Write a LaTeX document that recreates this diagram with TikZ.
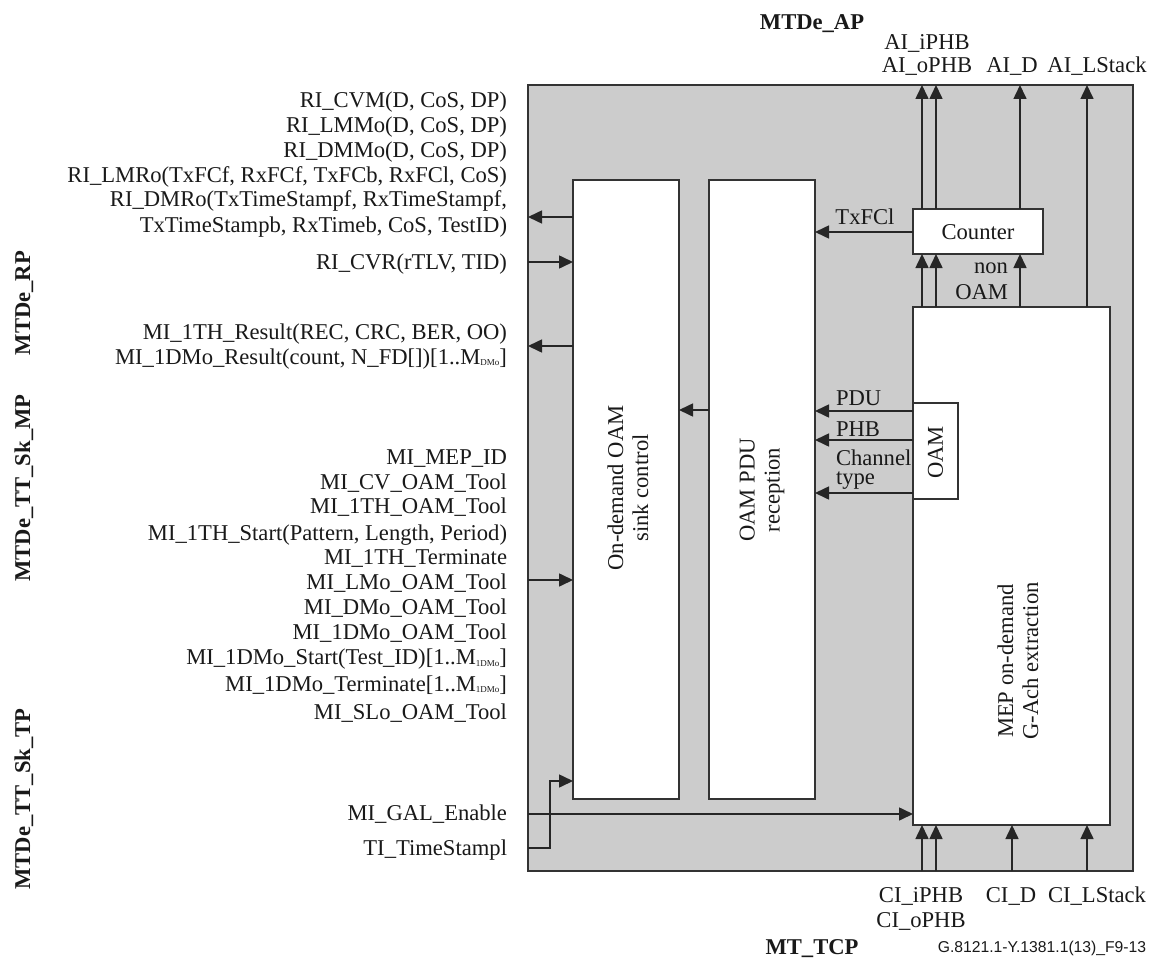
\documentclass[tikz,border=0pt]{standalone}
\usepackage{fontspec}
\setmainfont{Liberation Serif}
\newfontfamily\sansfam{Liberation Sans}
\usetikzlibrary{arrows.meta}
\newcommand{\subtiny}[1]{\raisebox{-1.5pt}{\fontsize{9}{10}\selectfont #1}}
\begin{document}
\begin{tikzpicture}[x=1pt,y=-1pt,
  every node/.style={font=\fontsize{22.6}{25}\selectfont, inner sep=0pt, outer sep=0pt, text=black!90},
  lab/.style={anchor=base east},
  ctr/.style={anchor=base},
  bold/.style={font=\fontsize{22.6}{25}\selectfont\bfseries},
  rot/.style={rotate=90, align=center},
  boxw/.style={draw=black!80, fill=white, line width=1.6pt, anchor=north west},
  arr/.style={-{Triangle[length=14pt,width=13pt]}, line width=1.6pt, draw=black!85},
  ln/.style={line width=1.6pt, draw=black!85}
]
\useasboundingbox (0,0) rectangle (1156,960);
\fill[white] (0,0) rectangle (1156,960);

% boxes
\node[boxw, fill=black!20, minimum width=605pt, minimum height=786pt] (outer) at (528,85) {};
\node[boxw, minimum width=106pt, minimum height=619pt] (sink) at (573,180) {};
\node[boxw, minimum width=106pt, minimum height=619pt] (pdu) at (709,180) {};
\node[boxw, minimum width=130pt, minimum height=45pt] (counter) at (913,209) {};
\node[boxw, minimum width=197pt, minimum height=518pt] (mep) at (913,307) {};
\node[boxw, minimum width=45pt, minimum height=96pt] (oam) at (913,403) {};

% box texts
\node[rot] (sinkt) at (628,488) {On-demand OAM\\sink control};
\node[rot] (pdut) at (762,490) {OAM PDU\\reception};
\node[rot] (mept) at (1018,661) {MEP on-demand\\G-Ach extraction};
\node[rotate=90] (oamt) at (935.5,452.5) {OAM};
\node[ctr] (countert) at (978,239.5) {Counter};

% coordinates for levels
\coordinate (xa) at (922,0);
\coordinate (xb) at (936,0);
\coordinate (xc) at (1020,0);
\coordinate (xd) at (1087,0);
\coordinate (xe) at (1012,0);
\coordinate (yRIo) at (0,217);
\coordinate (yCVR) at (0,262);
\coordinate (yMIo) at (0,346);
\coordinate (yMIi) at (0,580);
\coordinate (yGAL) at (0,814);
\coordinate (yTI) at (0,848);
\coordinate (yTIb) at (0,781);
\coordinate (tiA) at (550,848);
\coordinate (tiB) at (550,781);
\coordinate (yPP) at (0,410);
\coordinate (yTx) at (0,232);
\coordinate (yPDU) at (0,411);
\coordinate (yPHB) at (0,440);
\coordinate (yCT) at (0,493);

% left connectors
\draw[arr] (sink.west |- yRIo) -- (outer.west |- yRIo);
\draw[arr] (outer.west |- yCVR) -- (sink.west |- yCVR);
\draw[arr] (sink.west |- yMIo) -- (outer.west |- yMIo);
\draw[arr] (outer.west |- yMIi) -- (sink.west |- yMIi);
\draw[arr] (outer.west |- yGAL) -- (mep.west |- yGAL);
\draw[arr] (outer.west |- yTI) -- (tiA) -- (tiB) -- (sink.west |- yTIb);

% inner connectors
\draw[arr] (pdu.west |- yPP) -- (sink.east |- yPP);
\draw[arr] (counter.west |- yTx) -- (pdu.east |- yTx);
\draw[arr] (mep.west |- yPDU) -- (pdu.east |- yPDU);
\draw[arr] (mep.west |- yPHB) -- (pdu.east |- yPHB);
\draw[arr] (mep.west |- yCT) -- (pdu.east |- yCT);

% top connectors
\draw[arr] (counter.north -| xa) -- (outer.north -| xa);
\draw[arr] (counter.north -| xb) -- (outer.north -| xb);
\draw[arr] (counter.north -| xc) -- (outer.north -| xc);
\draw[arr] (mep.north -| xd) -- (outer.north -| xd);
\draw[arr] (mep.north -| xa) -- (counter.south -| xa);
\draw[arr] (mep.north -| xb) -- (counter.south -| xb);
\draw[arr] (mep.north -| xc) -- (counter.south -| xc);

% bottom connectors
\draw[arr] (outer.south -| xa) -- (mep.south -| xa);
\draw[arr] (outer.south -| xb) -- (mep.south -| xb);
\draw[arr] (outer.south -| xe) -- (mep.south -| xe);
\draw[arr] (outer.south -| xd) -- (mep.south -| xd);

% inner labels
\node[ctr] (txfcl) at (865,224.5) {TxFCl};
\node[anchor=base west] (pdul) at (836,405.5) {PDU};
\node[anchor=base west] (phbl) at (836,436.5) {PHB};
\node[anchor=west, align=left, font=\fontsize{22.6}{19}\selectfont] (chl) at (836,470) {Channel\\type};
\node[anchor=base east] (nonl) at (1008,273) {non};
\node[anchor=base east] (oaml) at (1008,299.5) {OAM};

% top labels
\node[ctr, bold] (apl) at (812,29.5) {MTDe\_AP};
\node[ctr] (aiiphb) at (927,49.2) {AI\_iPHB};
\node[ctr] (aiophb) at (927,72.5) {AI\_oPHB};
\node[ctr] (aid) at (1012,72.5) {AI\_D};
\node[ctr] (ails) at (1097,72.5) {AI\_LStack};

% bottom labels
\node[ctr] (ciiphb) at (921,902.5) {CI\_iPHB};
\node[ctr] (ciophb) at (921,927.5) {CI\_oPHB};
\node[ctr] (cid) at (1011,902.5) {CI\_D};
\node[ctr] (cils) at (1097,902.5) {CI\_LStack};
\node[ctr, bold] (tcpl) at (812,954.5) {MT\_TCP};
\node[ctr, font=\sansfam\fontsize{15.7}{18}\selectfont] (figid) at (1042,952.6) {G.8121.1-Y.1381.1(13)\_F9-13};

% left side labels
\node[lab] (l1) at (507,107.5) {RI\_CVM(D, CoS, DP)};
\node[lab] (l2) at (507,132.5) {RI\_LMMo(D, CoS, DP)};
\node[lab] (l3) at (507,157.5) {RI\_DMMo(D, CoS, DP)};
\node[lab] (l4) at (507,182.5) {RI\_LMRo(TxFCf, RxFCf, TxFCb, RxFCl, CoS)};
\node[lab] (l5) at (507,207) {RI\_DMRo(TxTimeStampf, RxTimeStampf,};
\node[lab] (l6) at (507,232.5) {TxTimeStampb, RxTimeb, CoS, TestID)};
\node[lab] (l7) at (507,269.2) {RI\_CVR(rTLV, TID)};
\node[lab] (l8) at (507,339.2) {MI\_1TH\_Result(REC, CRC, BER, OO)};
\node[lab] (l9) at (507,364.2) {MI\_1DMo\_Result(count, N\_FD[])[1..M\subtiny{DMo}]};
\node[lab] (m1) at (507,464.2) {MI\_MEP\_ID};
\node[lab] (m2) at (507,489.2) {MI\_CV\_OAM\_Tool};
\node[lab] (m3) at (507,513.8) {MI\_1TH\_OAM\_Tool};
\node[lab] (m4) at (507,540.2) {MI\_1TH\_Start(Pattern, Length, Period)};
\node[lab] (m5) at (507,564.2) {MI\_1TH\_Terminate};
\node[lab] (m6) at (507,589.2) {MI\_LMo\_OAM\_Tool};
\node[lab] (m7) at (507,614.2) {MI\_DMo\_OAM\_Tool};
\node[lab] (m8) at (507,639.8) {MI\_1DMo\_OAM\_Tool};
\node[lab] (m9) at (507,664.8) {MI\_1DMo\_Start(Test\_ID)[1..M\subtiny{1DMo}]};
\node[lab] (m10) at (507,691.2) {MI\_1DMo\_Terminate[1..M\subtiny{1DMo}]};
\node[lab] (m11) at (507,719.2) {MI\_SLo\_OAM\_Tool};
\node[lab] (g1) at (507,820.5) {MI\_GAL\_Enable};
\node[lab] (t1) at (507,855.5) {TI\_TimeStampl};

% rotated side titles
\node[rotate=90, anchor=base, bold] (rp) at (30,303) {MTDe\_RP};
\node[rotate=90, anchor=base, bold] (mp) at (30,488) {MTDe\_TT\_Sk\_MP};
\node[rotate=90, anchor=base, bold] (tp) at (30,799) {MTDe\_TT\_Sk\_TP};
\end{tikzpicture}
\end{document}
